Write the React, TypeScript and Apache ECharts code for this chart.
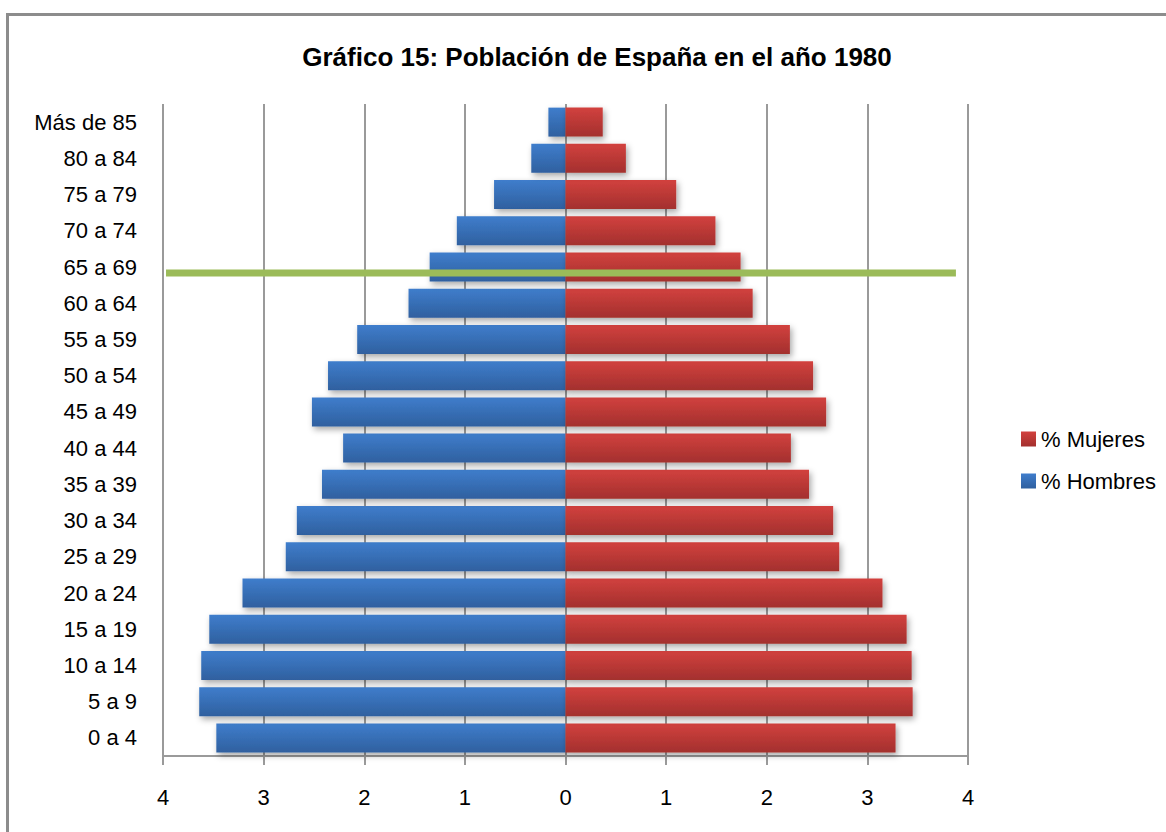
import React, { useEffect, useRef } from "react";
import * as echarts from "echarts";

const categories = [
  "0 a 4", "5 a 9", "10 a 14", "15 a 19", "20 a 24", "25 a 29", "30 a 34", "35 a 39",
  "40 a 44", "45 a 49", "50 a 54", "55 a 59", "60 a 64", "65 a 69", "70 a 74", "75 a 79",
  "80 a 84", "Más de 85",
];
const hombres = [3.47, 3.64, 3.62, 3.54, 3.21, 2.78, 2.67, 2.42, 2.21, 2.52, 2.36, 2.07, 1.56, 1.35, 1.08, 0.71, 0.34, 0.17];
const mujeres = [3.28, 3.45, 3.44, 3.39, 3.15, 2.72, 2.66, 2.42, 2.24, 2.59, 2.46, 2.23, 1.86, 1.74, 1.49, 1.10, 0.60, 0.37];
const xTicks = { min: -4, max: 4, interval: 1 };
const highlightCategory = "65 a 69";
const highlightRange = [-3.97, 3.88];

const FONT = "'Liberation Sans Narrow', 'Arial Narrow', 'Liberation Sans', Arial, sans-serif";

export default function App() {
  const ref = useRef<HTMLDivElement>(null);
  useEffect(() => {
    document.body.style.margin = "0";
    const chart = echarts.init(ref.current!, null, { renderer: "svg" });
    const blueGrad = new echarts.graphic.LinearGradient(0, 0, 0, 1, [
      { offset: 0, color: "#3f7dcc" },
      { offset: 1, color: "#2f609f" },
    ]);
    const redGrad = new echarts.graphic.LinearGradient(0, 0, 0, 1, [
      { offset: 0, color: "#d2413e" },
      { offset: 1, color: "#a3302e" },
    ]);
    const shadow = {
      shadowBlur: 6,
      shadowColor: "rgba(0,0,0,0.35)",
      shadowOffsetX: 2,
      shadowOffsetY: 3,
    };
    const frame = {
      type: "rect",
      shape: { x: 7.5, y: 14.5, width: 1300, height: 1000 },
      style: { fill: "none", stroke: "#8c8c8c", lineWidth: 3 },
      z: 100,
    };
    chart.setOption({
      animation: false,
      backgroundColor: "#ffffff",
      title: {
        text: "Gráfico 15: Población de España en el año 1980",
        left: 592,
        top: 39,
        textAlign: "center",
        textStyle: { fontFamily: FONT, fontSize: 26, fontWeight: "bold", color: "#000" },
      },
      legend: {
        orient: "vertical",
        left: 1016,
        top: 423,
        itemWidth: 15,
        itemHeight: 15,
        itemGap: 20,
        icon: "rect",
        data: ["% Mujeres", "% Hombres"],
        textStyle: { fontFamily: FONT, fontSize: 22, color: "#000" },
      },
      grid: { left: 163, right: 198, top: 104, bottom: 76, containLabel: false },
      xAxis: {
        type: "value",
        min: xTicks.min,
        max: xTicks.max,
        interval: xTicks.interval,
        axisLine: { show: true, lineStyle: { color: "#9a9a9a", width: 2 } },
        axisTick: { show: true, length: 9, lineStyle: { color: "#9a9a9a", width: 2 } },
        splitLine: { show: true, lineStyle: { color: "#9a9a9a", width: 2 } },
        axisLabel: {
          formatter: (v: number) => String(Math.abs(v)),
          fontFamily: FONT,
          fontSize: 22,
          color: "#000",
          margin: 30,
        },
      },
      yAxis: {
        type: "category",
        data: categories,
        axisLine: { show: false },
        axisTick: { show: false },
        axisLabel: { fontFamily: FONT, fontSize: 22, color: "#000", margin: 26 },
      },
      series: [
        {
          name: "% Hombres",
          type: "bar",
          stack: "total",
          barCategoryGap: "20%",
          data: hombres.map((v) => -v),
          itemStyle: { color: blueGrad, ...shadow },
        },
        {
          name: "% Mujeres",
          type: "bar",
          stack: "total",
          barCategoryGap: "20%",
          data: mujeres,
          itemStyle: { color: redGrad, ...shadow },
        },
      ],
      graphic: [frame],
    });
    const p1 = chart.convertToPixel({ gridIndex: 0 }, [highlightRange[0], highlightCategory]);
    const p2 = chart.convertToPixel({ gridIndex: 0 }, [highlightRange[1], highlightCategory]);
    if (p1 && p2) {
      chart.setOption({
        graphic: [
          frame,
          {
            type: "line",
            shape: { x1: p1[0], y1: p1[1] + 6, x2: p2[0], y2: p2[1] + 6 },
            style: { stroke: "#9bbb59", lineWidth: 7 },
            z: 100,
          },
        ],
      });
    }
    return () => chart.dispose();
  }, []);
  return <div ref={ref} style={{ width: 1166, height: 832 }} />;
}
